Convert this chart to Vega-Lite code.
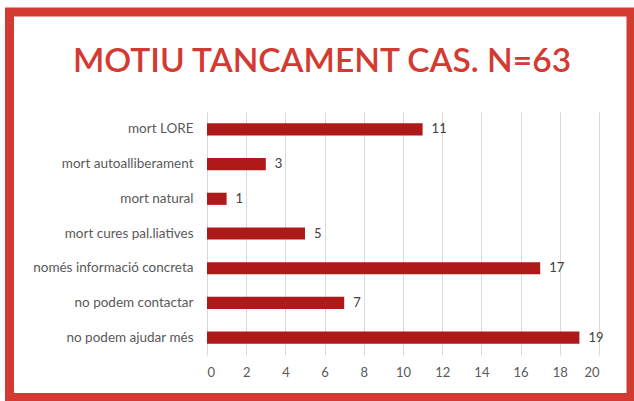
{
  "$schema": "https://vega.github.io/schema/vega-lite/v6.json",
  "width": 392,
  "height": 243,
  "autosize": {"type": "none"},
  "padding": {"left": 207, "top": 112, "right": 35, "bottom": 46},
  "background": "white",
  "title": {
    "text": "MOTIU TANCAMENT CAS. N=63",
    "font": "Lato",
    "fontSize": 33.5,
    "fontWeight": 600,
    "color": "#d33a32",
    "anchor": "middle",
    "frame": "group",
    "dx": -81,
    "dy": 109,
    "offset": 37
  },
  "config": {
    "view": {"stroke": null},
    "font": "Lato"
  },
  "data": {
    "values": [
      {"motiu": "mort LORE", "n": 11},
      {"motiu": "mort autoalliberament", "n": 3},
      {"motiu": "mort natural", "n": 1},
      {"motiu": "mort cures pal.liatives", "n": 5},
      {"motiu": "només informació concreta", "n": 17},
      {"motiu": "no podem contactar", "n": 7},
      {"motiu": "no podem ajudar més", "n": 19}
    ]
  },
  "encoding": {
    "y": {
      "field": "motiu",
      "type": "nominal",
      "sort": null,
      "scale": {"paddingInner": 0.65, "paddingOuter": 0.325},
      "axis": {
        "title": null,
        "domain": false,
        "ticks": false,
        "labelFont": "Lato",
        "labelFontSize": 13.5,
        "labelColor": "#595959",
        "labelPadding": 14
      }
    },
    "x": {
      "field": "n",
      "type": "quantitative",
      "scale": {"domain": [0, 20], "nice": false},
      "axis": {
        "title": null,
        "values": [0, 2, 4, 6, 8, 10, 12, 14, 16, 18, 20],
        "labelOverlap": false,
        "labelBound": false,
        "domain": false,
        "ticks": false,
        "grid": true,
        "gridColor": "#d9d9d9",
        "gridWidth": 1,
        "labelFont": "Lato",
        "labelFontSize": 13,
        "labelColor": "#595959",
        "labelPadding": 11
      }
    }
  },
  "layer": [
    {
      "data": {"values": [{}]},
      "mark": {"type": "rect", "fill": null, "stroke": "#d33a32", "strokeWidth": 9, "clip": false},
      "encoding": {
        "x": {"value": -197.5},
        "x2": {"value": 424},
        "y": {"value": -100},
        "y2": {"value": 285.5}
      }
    },
    {
      "mark": {"type": "bar", "color": "#b01919"}
    },
    {
      "mark": {"type": "text", "align": "left", "baseline": "middle", "dx": 9, "font": "Lato", "fontSize": 13, "color": "#404040"},
      "encoding": {
        "text": {"field": "n", "type": "quantitative"}
      }
    }
  ]
}
